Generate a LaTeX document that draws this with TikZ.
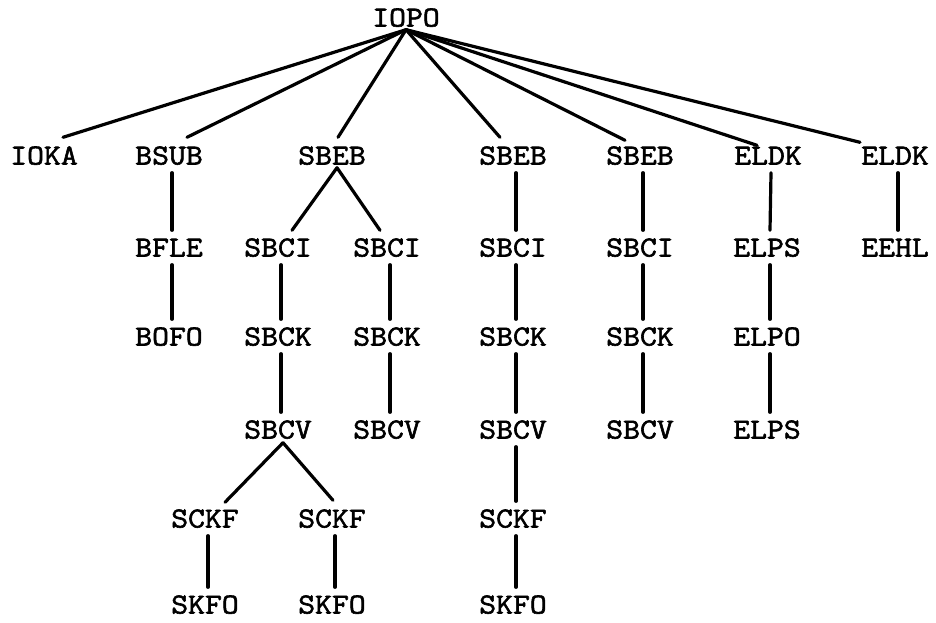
\documentclass[tikz,border=0pt]{standalone}
\usepackage{fontspec}
\newfontfamily\twfont{Latin Modern Mono}[FakeBold=2, FakeStretch=1.13]
\usetikzlibrary{calc}
\begin{document}
\begin{tikzpicture}[x=1pt,y=-1pt,
  lbl/.style={font=\fontsize{29}{29}\selectfont\twfont, inner sep=0pt, text height=17pt, text depth=0pt, anchor=center},
  edge/.style={line width=3.2pt, line cap=round}]
\useasboundingbox (0,0) rectangle (936,622);
% row 0
\node[lbl] (iopo) at (406,18) {IOPO};
% row 1
\node[lbl] (ioka) at (44,156) {IOKA};
\node[lbl] (bsub) at (169,156) {BSUB};
\node[lbl] (sbeba) at (332,156) {SBEB};
\node[lbl] (sbebb) at (513,156) {SBEB};
\node[lbl] (sbebc) at (640,156) {SBEB};
\node[lbl] (eldka) at (768,156) {ELDK};
\node[lbl] (eldkb) at (895,156) {ELDK};
% row 2
\node[lbl] (bfle) at (169,248) {BFLE};
\node[lbl] (sbcia) at (278,248) {SBCI};
\node[lbl] (sbcib) at (387,248) {SBCI};
\node[lbl] (sbcic) at (513,248) {SBCI};
\node[lbl] (sbcid) at (640,248) {SBCI};
\node[lbl] (elpsa) at (767,248) {ELPS};
\node[lbl] (eehl) at (895,248) {EEHL};
% row 3
\node[lbl] (bofo) at (169,337) {BOFO};
\node[lbl] (sbcka) at (278,337) {SBCK};
\node[lbl] (sbckb) at (387,337) {SBCK};
\node[lbl] (sbckc) at (513,337) {SBCK};
\node[lbl] (sbckd) at (640,337) {SBCK};
\node[lbl] (elpo) at (767,337) {ELPO};
% row 4
\node[lbl] (sbcva) at (278,430) {SBCV};
\node[lbl] (sbcvb) at (387,430) {SBCV};
\node[lbl] (sbcvc) at (513,430) {SBCV};
\node[lbl] (sbcvd) at (640,430) {SBCV};
\node[lbl] (elpsb) at (767,430) {ELPS};
% row 5
\node[lbl] (sckfa) at (205,519) {SCKF};
\node[lbl] (sckfb) at (332,519) {SCKF};
\node[lbl] (sckfc) at (513,519) {SCKF};
% row 6
\node[lbl] (skfoa) at (205,605) {SKFO};
\node[lbl] (skfob) at (332,605) {SKFO};
\node[lbl] (skfoc) at (513,605) {SKFO};
% root edges
\coordinate (apex) at ($(iopo.south)+(0,3)$);
\draw[edge] (apex) -- ($(ioka.north)+(19,-10)$);
\draw[edge] (apex) -- ($(bsub.north)+(18,-10)$);
\draw[edge] (apex) -- ($(sbeba.north)+(6,-10)$);
\draw[edge] (apex) -- ($(sbebb.north)+(-13,-10)$);
\draw[edge] (apex) -- ($(sbebc.north)+(-15,-7)$);
\draw[edge] (apex) -- ($(eldka.north)+(-11,-2)$);
\draw[edge] (apex) -- ($(eldkb.north)+(-35,-5)$);
% SBEB 1 fork
\coordinate (fa) at ($(sbeba.south)+(5,3)$);
\draw[edge] (fa) -- ($(sbcia.north)+(14,-9)$);
\draw[edge] (fa) -- ($(sbcib.north)+(-7,-9)$);
% SBCV 1 fork
\coordinate (fb) at ($(sbcva.south)+(5,4)$);
\draw[edge] (fb) -- ($(sckfa.north)+(20,-8)$);
\draw[edge] (fb) -- ($(sckfb.north)+(1,-10)$);
% vertical edges
\foreach \p/\c in {bsub/bfle, bfle/bofo, sbcia/sbcka, sbcka/sbcva, sbcib/sbckb, sbckb/sbcvb,
  sbebb/sbcic, sbcic/sbckc, sbckc/sbcvc, sbcvc/sckfc, sckfc/skfoc,
  sbebc/sbcid, sbcid/sbckd, sbckd/sbcvd,
  eldka/elpsa, elpsa/elpo, elpo/elpsb, eldkb/eehl, sckfa/skfoa, sckfb/skfob}
  \draw[edge] ($(\p.south)+(3,8)$) -- ($(\c.north)+(3,-9)$);
\end{tikzpicture}
\end{document}
